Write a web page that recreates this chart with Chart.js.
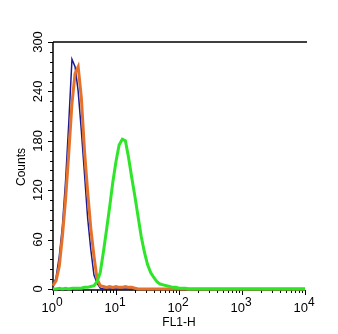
<!DOCTYPE html>
<html>
<head>
  <meta charset="utf-8">
  <title>FL1-H histogram</title>
  <script src="https://cdn.jsdelivr.net/npm/chart.js"></script>
  <style>
    html, body { margin: 0; padding: 0; background: #fff; }
    #wrap { width: 338px; height: 334px; position: relative; }
  </style>
</head>
<body>
  <div id="wrap"><canvas id="myChart" width="338" height="334"></canvas></div>
  <script>
    // FL1-H channel positions (log spaced) and counts
    const fl1Bins = [1.00, 1.12, 1.26, 1.41, 1.58, 1.78, 2.00, 2.24, 2.51, 2.82,
                     3.16, 3.55, 3.98, 4.47, 5.01, 5.62, 6.31, 7.08, 7.94, 8.91,
                     10.0, 11.2, 12.6, 14.1, 15.8, 17.8, 20.0, 22.4, 25.1, 28.2,
                     31.6, 35.5, 39.8, 44.7, 50.1, 56.2, 63.1, 70.8, 79.4, 89.1,
                     100, 112, 126, 141, 158, 10000];
    const countsBlue = [3, 14, 40, 76, 130, 202, 279, 270, 240, 192,
                        140, 86, 48, 17, 7, 1, 0, 0, 0, 0,
                        0, 0, 0, 0, 0, 0, 0, 0, 0, 0,
                        0, 0, 0, 0, 0, 0, 0, 0, 0, 0,
                        0, 0, 0, 0, 0, 0];
    const countsOrange = [4, 10, 28, 64, 108, 165, 225, 262, 270, 232,
                          168, 118, 74, 40, 12, 4, 3, 2, 3, 2,
                          3, 2, 2, 3, 2, 2, 1, 0, 0, 0,
                          0, 0, 0, 0, 0, 0, 0, 0, 0, 0,
                          0, 0, 0, 0, 0, 0];
    const countsGreen = [0, 0, 1, 0, 1, 0, 1, 1, 1, 1,
                         2, 2, 3, 4, 9, 20, 45, 72, 100, 130,
                         155, 175, 182, 180, 160, 135, 112, 88, 64, 45,
                         30, 20, 14, 9, 6, 5, 4, 3, 2, 2,
                         1, 1, 1, 0, 0, 0];
    const yTicks = [0, 60, 120, 180, 240, 300];
    const xDecades = [1, 10, 100, 1000, 10000];
    const xExponents = ['0', '1', '2', '3', '4'];

    function toPoints(counts) {
      return fl1Bins.map((x, i) => ({ x: x, y: counts[i] }));
    }

    // draws the axes in the flow cytometry style (ticks outside, 10^n labels)
    const axesPlugin = {
      id: 'axesPlugin',
      beforeDatasetsDraw(chart) {
        const ctx = chart.ctx;
        const xs = chart.scales.x;
        const ys = chart.scales.y;
        const area = chart.chartArea;
        ctx.save();
        ctx.strokeStyle = '#000';
        ctx.fillStyle = '#000';
        ctx.lineWidth = 1.5;

        // left, bottom and top lines
        ctx.beginPath();
        ctx.moveTo(area.left, area.top);
        ctx.lineTo(area.left, area.bottom + 1);
        ctx.lineTo(area.right, area.bottom + 1);
        ctx.moveTo(area.left, area.top);
        ctx.lineTo(area.right + 2, area.top);
        ctx.stroke();

        // y ticks: major every 60, minor every 12
        ctx.lineWidth = 1;
        ctx.beginPath();
        for (let v = 0; v <= 300; v += 12) {
          const y = Math.round(ys.getPixelForValue(v)) + 0.5;
          const len = (v % 60 === 0) ? 5 : 3;
          ctx.moveTo(area.left, y);
          ctx.lineTo(area.left - len, y);
        }
        // x ticks: decades and 2..9 minors
        for (let d = 0; d < xDecades.length; d++) {
          const base = xDecades[d];
          const maxK = d === xDecades.length - 1 ? 1 : 9;
          for (let k = 1; k <= maxK; k++) {
            const x = Math.round(xs.getPixelForValue(base * k)) + 0.5;
            const len = k === 1 ? 5 : 3;
            ctx.moveTo(x, area.bottom + 1);
            ctx.lineTo(x, area.bottom + 1 + len);
          }
        }
        ctx.stroke();

        // y tick labels, rotated
        ctx.font = '13px "Liberation Sans", Arial, sans-serif';
        ctx.textAlign = 'center';
        ctx.textBaseline = 'middle';
        yTicks.forEach(v => {
          const y = ys.getPixelForValue(v);
          ctx.save();
          ctx.translate(38, y);
          ctx.rotate(-Math.PI / 2);
          ctx.fillText(String(v), 0, 0);
          ctx.restore();
        });

        // y title
        ctx.save();
        ctx.font = '12px "Liberation Sans", Arial, sans-serif';
        ctx.translate(22, 167);
        ctx.rotate(-Math.PI / 2);
        ctx.fillText('Counts', 0, 0);
        ctx.restore();

        // x tick labels 10^n
        ctx.textBaseline = 'alphabetic';
        ctx.textAlign = 'left';
        xDecades.forEach((v, i) => {
          const x = xs.getPixelForValue(v);
          ctx.font = '13px "Liberation Sans", Arial, sans-serif';
          const w1 = ctx.measureText('10').width;
          ctx.font = '12px "Liberation Sans", Arial, sans-serif';
          const w2 = ctx.measureText(xExponents[i]).width;
          const start = x - (w1 + w2) / 2 - 1;
          ctx.font = '13px "Liberation Sans", Arial, sans-serif';
          ctx.fillText('10', start, 312);
          ctx.font = '12px "Liberation Sans", Arial, sans-serif';
          ctx.fillText(xExponents[i], start + w1, 306);
        });

        // x title
        ctx.font = '12px "Liberation Sans", Arial, sans-serif';
        ctx.textAlign = 'center';
        ctx.fillText('FL1-H', (area.left + area.right) / 2, 326);
        ctx.restore();
      }
    };

    const ctx = document.getElementById('myChart').getContext('2d');
    const chart = new Chart(ctx, {
      type: 'line',
      data: {
        datasets: [
          {
            label: 'green',
            data: toPoints(countsGreen),
            borderColor: '#2fe52a',
            borderWidth: 3,
            pointRadius: 0,
            fill: false
          },
          {
            label: 'orange',
            data: toPoints(countsOrange),
            borderColor: '#e4722c',
            borderWidth: 3,
            pointRadius: 0,
            fill: false
          },
          {
            label: 'blue',
            data: toPoints(countsBlue),
            borderColor: '#1b1b8e',
            borderWidth: 1.5,
            pointRadius: 0,
            fill: false
          }
        ]
      },
      options: {
        responsive: false,
        animation: false,
        clip: 4,
        layout: { padding: { left: 53, right: 33, top: 42, bottom: 45 } },
        plugins: {
          legend: { display: false },
          tooltip: { enabled: false }
        },
        scales: {
          x: { type: 'logarithmic', min: 1, max: 10000, display: false },
          y: { type: 'linear', min: 0, max: 300, display: false }
        }
      },
      plugins: [axesPlugin]
    });
  </script>
</body>
</html>
